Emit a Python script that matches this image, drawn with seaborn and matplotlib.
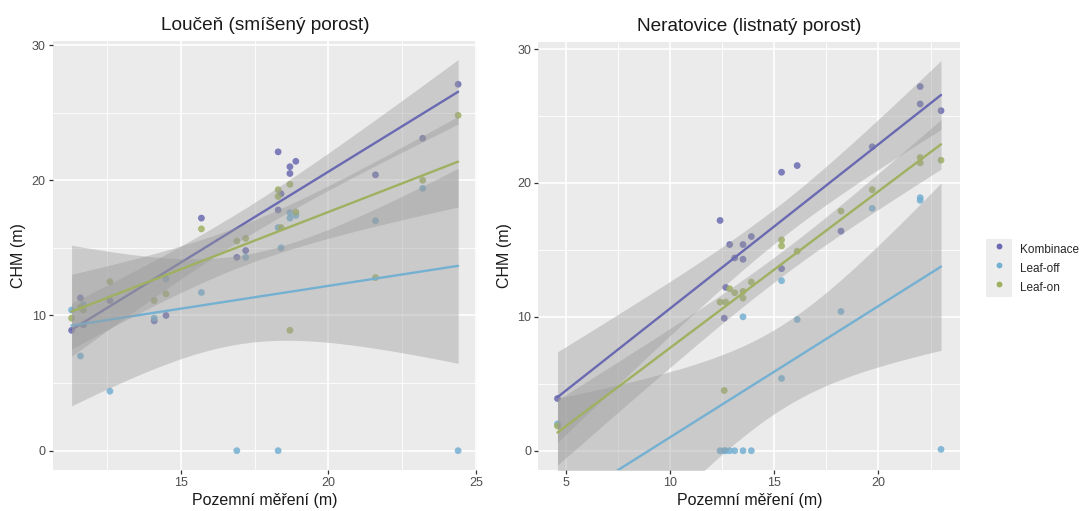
import math
import numpy as np
import pandas as pd
import matplotlib
matplotlib.use("Agg")
import matplotlib.pyplot as plt
import seaborn as sns
from matplotlib.ticker import MultipleLocator
from matplotlib.lines import Line2D
from matplotlib.patches import Rectangle
from matplotlib.legend_handler import HandlerTuple

# ---------------- data ----------------
series = ["Kombinace", "Leaf-off", "Leaf-on"]

left_title = "Loučeň (smíšený porost)"
left_x = [11.3, 11.6, 11.7, 12.6, 14.1, 14.5, 15.7, 16.9, 17.2, 18.3, 18.3, 18.4,
          18.7, 18.7, 18.9, 21.6, 23.2, 24.4]
left_kombinace = [8.9, 11.3, 9.3, 11.1, 9.6, 10.0, 17.2, 14.3, 14.8, 22.1, 17.8, 19.0,
                  21.0, 20.5, 21.4, 20.4, 23.1, 27.1]
left_leafoff = [10.4, 7.0, 10.8, 4.4, 9.8, 12.7, 11.7, 0.0, 14.3, 0.0, 16.5, 15.0,
                17.6, 17.2, 17.4, 17.0, 19.4, 0.0]
left_leafon = [9.8, 10.6, 10.4, 12.5, 11.1, 11.6, 16.4, 15.5, 15.7, 19.3, 18.8, 16.5,
               19.7, 8.9, 17.65, 12.8, 20.0, 24.8]

right_title = "Neratovice (listnatý porost)"
right_x = [4.6, 12.4, 12.6, 12.67, 12.86, 13.1, 13.5, 13.5, 13.9, 15.35, 15.35, 16.1,
           18.2, 19.7, 22.0, 22.0, 23.0]
right_kombinace = [3.9, 17.2, 9.9, 12.2, 15.4, 14.4, 15.4, 14.3, 16.0, 20.8, 13.6, 21.3,
                   16.4, 22.7, 27.2, 25.9, 25.4]
right_leafoff = [2.0, 0.0, 0.0, 0.0, 0.0, 0.0, 10.0, 0.0, 0.0, 12.7, 5.4, 9.8,
                 10.4, 18.1, 18.9, 18.7, 0.1]
right_leafon = [1.85, 11.1, 4.5, 11.1, 12.1, 11.8, 11.4, 11.9, 12.6, 15.75, 15.3, 14.9,
                17.9, 19.5, 21.9, 21.5, 21.7]

x_label = "Pozemní měření (m)"
y_label = "CHM (m)"

colors = {"Kombinace": "#6A6AB2", "Leaf-off": "#74B0D2", "Leaf-on": "#9FB160"}


def long_frame(x, k, off, on):
    rows = []
    for name, vals in zip(series, [k, off, on]):
        for xi, yi in zip(x, vals):
            rows.append({"x": xi, "chm": yi, "series": name})
    return pd.DataFrame(rows)


def t975(df):
    xs = np.linspace(0, 12, 240001)
    c = math.gamma((df + 1) / 2) / (math.sqrt(df * math.pi) * math.gamma(df / 2))
    pdf = c * (1 + xs ** 2 / df) ** (-(df + 1) / 2)
    cdf = 0.5 + np.concatenate([[0.0], np.cumsum((pdf[1:] + pdf[:-1]) / 2 * np.diff(xs))])
    return float(np.interp(0.975, cdf, xs))


def lm_band(x, y, n=80):
    x = np.asarray(x, float)
    y = np.asarray(y, float)
    b, a = np.polyfit(x, y, 1)
    res = y - (a + b * x)
    dof = len(x) - 2
    s = math.sqrt(np.sum(res ** 2) / dof)
    sxx = np.sum((x - x.mean()) ** 2)
    grid = np.linspace(x.min(), x.max(), n)
    fit = a + b * grid
    se = s * np.sqrt(1 / len(x) + (grid - x.mean()) ** 2 / sxx)
    t = t975(dof)
    return grid, fit - t * se, fit + t * se


# ---------------- style ----------------
sns.set_theme(style="darkgrid", rc={
    "axes.facecolor": "#EBEBEB",
    "figure.facecolor": "white",
    "axes.edgecolor": "none",
    "grid.color": "white",
})
plt.rcParams["font.family"] = ["Liberation Sans", "DejaVu Sans"]

fig = plt.figure(figsize=(10.88, 5.11), dpi=100)
ax_l = fig.add_axes([0.04871, 0.08023, 0.38971, 0.84012])
ax_r = fig.add_axes([0.49476, 0.08023, 0.38778, 0.83816])


def draw_panel(ax, df, title, xlim, ylim):
    sns.scatterplot(data=df, x="x", y="chm", hue="series", hue_order=series,
                    palette=colors, s=24, alpha=0.85, edgecolor="none",
                    legend=False, ax=ax, zorder=2)
    for i, name in enumerate(series):
        sub = df[df["series"] == name]
        gx, lo, hi = lm_band(sub["x"], sub["chm"])
        ax.fill_between(gx, lo, hi, color="#999999", alpha=0.4, lw=0, zorder=3 + 2 * i)
        sns.regplot(data=sub, x="x", y="chm", scatter=False, ci=None,
                    color=colors[name], line_kws=dict(lw=1.7, zorder=4 + 2 * i), ax=ax)
    ax.set_xlim(*xlim)
    ax.set_ylim(*ylim)
    ax.xaxis.set_major_locator(MultipleLocator(5))
    ax.xaxis.set_minor_locator(MultipleLocator(2.5))
    ax.yaxis.set_major_locator(MultipleLocator(10))
    ax.yaxis.set_minor_locator(MultipleLocator(5))
    ax.grid(which="major", color="white", lw=1.2)
    ax.grid(which="minor", color="white", lw=0.6)
    ax.tick_params(which="major", length=3.2, width=0.9, color="#333333",
                   labelsize=9, labelcolor="#4D4D4D", pad=2, bottom=True, left=True)
    ax.tick_params(which="minor", length=0)
    for sp in ax.spines.values():
        sp.set_visible(False)
    ax.set_title(title, fontsize=13.7, pad=8, color="#1A1A1A")
    ax.set_xlabel(x_label, fontsize=11.5, labelpad=3, color="#1A1A1A")
    ax.set_ylabel(y_label, fontsize=11.5, labelpad=4, color="#1A1A1A")


df_l = long_frame(left_x, left_kombinace, left_leafoff, left_leafon)
df_r = long_frame(right_x, right_kombinace, right_leafoff, right_leafon)

draw_panel(ax_l, df_l, left_title, (10.67, 25.04), (-1.43, 30.32))
draw_panel(ax_r, df_r, right_title, (3.68, 23.92), (-1.44, 30.55))

# legend (ggplot-like grey keys)
handles = []
for name in series:
    key = Rectangle((0, 0), 1, 1, facecolor="#EDEDED", edgecolor="none")
    mk = Line2D([], [], marker="o", linestyle="", markersize=4.2,
                markerfacecolor=colors[name], markeredgecolor="none")
    handles.append((key, mk))
fig.legend(handles, series, handler_map={tuple: HandlerTuple(ndivide=1, pad=0)},
           loc="center left", bbox_to_anchor=(986 / 1088, 1 - 268 / 511),
           frameon=False, fontsize=8.5, handlelength=2.2, handleheight=2.1,
           labelspacing=0.0, handletextpad=0.7, borderpad=0, borderaxespad=0)

fig.savefig("out.png", dpi=100)
